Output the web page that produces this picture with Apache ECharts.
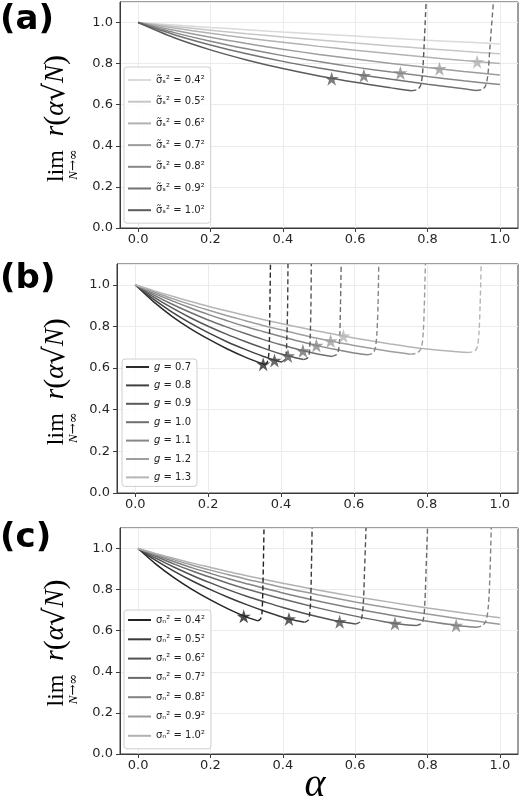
<!DOCTYPE html>
<html><head><meta charset="utf-8">
<script src="https://cdn.jsdelivr.net/npm/echarts@6/dist/echarts.min.js"></script>
<style>html,body{margin:0;padding:0;background:#fff}#c{width:524px;height:800px}</style>
</head><body><div id="c"></div>
<script>
// ---------- Panel (a): sigma_s^2 ----------
const aLabels = ['0.4','0.5','0.6','0.7','0.8','0.9','1.0'];
const aColors = ['#dadada','#c6c6c6','#b2b2b2','#9d9d9d','#888888','#727272','#5b5b5b'];
const aS04 = [[0,1],[0.1,0.988],[0.2,0.976],[0.3,0.965],[0.4,0.954],[0.5,0.944],[0.6,0.934],[0.7,0.924],[0.8,0.914],[0.9,0.905],[1.0,0.896]];
const aS05 = [[0,1],[0.1,0.981],[0.2,0.963],[0.3,0.946],[0.4,0.930],[0.5,0.915],[0.6,0.900],[0.7,0.886],[0.8,0.873],[0.9,0.860],[1.0,0.848]];
const aS06 = [[0,1],[0.1,0.973],[0.2,0.948],[0.3,0.925],[0.4,0.904],[0.5,0.884],[0.6,0.865],[0.7,0.848],[0.8,0.831],[0.9,0.815],[1.0,0.801]];
const aS07 = [[0,1],[0.1,0.962],[0.2,0.928],[0.3,0.898],[0.4,0.870],[0.5,0.845],[0.6,0.822],[0.7,0.801],[0.8,0.781],[0.9,0.762],[1.0,0.745]];
const aS08 = [[0,1],[0.1,0.951],[0.2,0.909],[0.3,0.872],[0.4,0.839],[0.5,0.810],[0.6,0.783],[0.7,0.759],[0.8,0.737],[0.9,0.717],[1.0,0.698]];
const aS09 = [[0,1],[0.1,0.941],[0.2,0.891],[0.3,0.848],[0.4,0.811],[0.5,0.779],[0.6,0.750],[0.7,0.724],[0.8,0.700],[0.9,0.678],[0.934,0.669]];
const aS10 = [[0,1],[0.1,0.926],[0.2,0.867],[0.3,0.818],[0.4,0.776],[0.5,0.740],[0.6,0.709],[0.7,0.682],[0.755,0.668]];
const aDash10 = [[0.755,0.668],[0.772,0.674],[0.781,0.695],[0.786,0.75],[0.79,0.87],[0.796,1.1]];
const aDash09 = [[0.934,0.669],[0.952,0.675],[0.961,0.695],[0.967,0.75],[0.972,0.87],[0.982,1.1]];
const aStars = [[0.535,0.727],[0.624,0.742],[0.725,0.755],[0.833,0.775],[0.937,0.809]];
const aStarCurve = [6,5,4,3,2];

// ---------- Panel (b): g ----------
const bLabels = ['0.7','0.8','0.9','1.0','1.1','1.2','1.3'];
const bColors = ['#2b2b2b','#424242','#595959','#707070','#878787','#9e9e9e','#b5b5b5'];
const bG07 = [[0,1],[0.05,0.919],[0.1,0.850],[0.15,0.791],[0.2,0.740],[0.25,0.694],[0.3,0.654],[0.356,0.616]];
const bG08 = [[0,1],[0.05,0.931],[0.1,0.870],[0.15,0.817],[0.2,0.770],[0.25,0.728],[0.3,0.691],[0.35,0.657],[0.4,0.629]];
const bG09 = [[0,1],[0.05,0.942],[0.1,0.890],[0.15,0.843],[0.2,0.801],[0.25,0.763],[0.3,0.729],[0.35,0.697],[0.4,0.668],[0.462,0.641]];
const bG10 = [[0,1],[0.05,0.952],[0.1,0.908],[0.15,0.868],[0.2,0.831],[0.25,0.798],[0.3,0.767],[0.35,0.738],[0.4,0.712],[0.45,0.688],[0.5,0.668],[0.54,0.656]];
const bG11 = [[0,1],[0.05,0.960],[0.1,0.924],[0.15,0.890],[0.2,0.858],[0.25,0.829],[0.3,0.801],[0.35,0.776],[0.4,0.752],[0.45,0.729],[0.5,0.708],[0.55,0.689],[0.6,0.673],[0.636,0.664]];
const bG12 = [[0,1],[0.05,0.967],[0.1,0.935],[0.15,0.906],[0.2,0.879],[0.25,0.853],[0.3,0.829],[0.35,0.805],[0.4,0.784],[0.45,0.763],[0.5,0.743],[0.55,0.725],[0.6,0.709],[0.65,0.694],[0.7,0.680],[0.755,0.667]];
const bG13 = [[0,1],[0.05,0.972],[0.1,0.946],[0.15,0.921],[0.2,0.897],[0.25,0.875],[0.3,0.854],[0.35,0.833],[0.4,0.814],[0.45,0.796],[0.5,0.778],[0.55,0.761],[0.6,0.745],[0.65,0.730],[0.7,0.716],[0.75,0.703],[0.8,0.692],[0.85,0.683],[0.911,0.675]];
const bDash07 = [[0.356,0.616],[0.362,0.628],[0.366,0.66],[0.368,0.72],[0.369,0.85],[0.371,1.1]];
const bDash08 = [[0.4,0.629],[0.41,0.64],[0.414,0.67],[0.416,0.75],[0.418,0.9],[0.419,1.1]];
const bDash09 = [[0.462,0.641],[0.474,0.651],[0.478,0.68],[0.48,0.75],[0.482,0.9],[0.483,1.1]];
const bDash10 = [[0.54,0.656],[0.553,0.665],[0.558,0.69],[0.561,0.75],[0.563,0.9],[0.565,1.1]];
const bDash11 = [[0.636,0.664],[0.652,0.672],[0.659,0.70],[0.663,0.77],[0.666,0.9],[0.668,1.1]];
const bDash12 = [[0.755,0.667],[0.775,0.674],[0.785,0.70],[0.79,0.77],[0.793,0.9],[0.796,1.1]];
const bDash13 = [[0.911,0.675],[0.93,0.681],[0.938,0.70],[0.943,0.77],[0.946,0.9],[0.949,1.1]];
const bStars = [[0.351,0.619],[0.382,0.637],[0.419,0.658],[0.460,0.683],[0.497,0.709],[0.536,0.730],[0.571,0.754]];
const bStarCurve = [0,1,2,3,4,5,6];

// ---------- Panel (c): sigma_n^2 ----------
const cLabels = ['0.4','0.5','0.6','0.7','0.8','0.9','1.0'];
const cColors = ['#222222','#3a3a3a','#525252','#6a6a6a','#828282','#9a9a9a','#b2b2b2'];
const cN04 = [[0,1],[0.05,0.923],[0.1,0.857],[0.15,0.800],[0.2,0.750],[0.25,0.705],[0.3,0.666],[0.331,0.648]];
const cN05 = [[0,1],[0.05,0.941],[0.1,0.889],[0.15,0.842],[0.2,0.800],[0.25,0.762],[0.3,0.727],[0.35,0.695],[0.4,0.666],[0.43,0.652],[0.46,0.641]];
const cN06 = [[0,1],[0.05,0.952],[0.1,0.909],[0.15,0.869],[0.2,0.833],[0.25,0.799],[0.3,0.768],[0.35,0.740],[0.4,0.713],[0.45,0.689],[0.5,0.667],[0.55,0.647],[0.601,0.633]];
const cN07 = [[0,1],[0.05,0.961],[0.1,0.924],[0.15,0.891],[0.2,0.860],[0.25,0.830],[0.3,0.803],[0.4,0.754],[0.5,0.710],[0.6,0.671],[0.7,0.638],[0.768,0.625]];
const cN08 = [[0,1],[0.05,0.967],[0.1,0.936],[0.15,0.906],[0.2,0.879],[0.25,0.853],[0.3,0.829],[0.4,0.784],[0.5,0.744],[0.6,0.708],[0.7,0.675],[0.8,0.646],[0.88,0.626],[0.934,0.617]];
const cN09 = [[0,1],[0.05,0.972],[0.1,0.945],[0.15,0.919],[0.2,0.895],[0.25,0.872],[0.3,0.851],[0.4,0.810],[0.5,0.774],[0.6,0.740],[0.7,0.709],[0.8,0.681],[0.9,0.655],[1.0,0.631]];
const cN10 = [[0,1],[0.05,0.975],[0.1,0.952],[0.15,0.929],[0.2,0.908],[0.25,0.887],[0.3,0.868],[0.4,0.831],[0.5,0.797],[0.6,0.766],[0.7,0.738],[0.8,0.711],[0.9,0.686],[1.0,0.663]];
const cDash04 = [[0.331,0.648],[0.338,0.656],[0.342,0.68],[0.344,0.75],[0.346,0.9],[0.348,1.1]];
const cDash05 = [[0.46,0.641],[0.47,0.65],[0.474,0.68],[0.477,0.75],[0.479,0.9],[0.481,1.1]];
const cDash06 = [[0.601,0.633],[0.613,0.642],[0.619,0.67],[0.623,0.75],[0.626,0.9],[0.63,1.1]];
const cDash07 = [[0.768,0.625],[0.782,0.634],[0.789,0.66],[0.793,0.75],[0.796,0.9],[0.8,1.1]];
const cDash08 = [[0.934,0.617],[0.952,0.626],[0.962,0.65],[0.968,0.72],[0.972,0.85],[0.976,1.1]];
const cStars = [[0.292,0.670],[0.417,0.657],[0.557,0.644],[0.710,0.635],[0.879,0.626]];
const cStarCurve = [0,1,2,3,4];

// ---------- axes ticks ----------
const xTicks = [0, 0.2, 0.4, 0.6, 0.8, 1.0];

// ---------- build ----------
const STAR = 'path://M50,0 L61.2,34.5 L97.6,34.5 L68.2,55.9 L79.4,90.5 L50,69.1 L20.6,90.5 L31.8,55.9 L2.4,34.5 L38.8,34.5 Z';
const panels = [
  { curves:[aS04,aS05,aS06,aS07,aS08,aS09,aS10], names:aLabels.map(v=>'σ\u0303\u209B\u00B2 = '+v+'\u00B2'),
    colors:aColors, dashes:[aDash10,aDash09], dashCurve:[6,5], stars:aStars, starCurve:aStarCurve,
    grid:{left:120, top:2, width:398, height:226},
    legend:{left:124, top:67, padding:[7,6,7,3], itemGap:9.7} },
  { curves:[bG07,bG08,bG09,bG10,bG11,bG12,bG13], names:bLabels.map(v=>'g = '+v),
    colors:bColors, dashes:[bDash07,bDash08,bDash09,bDash10,bDash11,bDash12,bDash13], dashCurve:[0,1,2,3,4,5,6],
    stars:bStars, starCurve:bStarCurve,
    grid:{left:117, top:264, width:401, height:229},
    legend:{left:122, top:359, padding:[2,6,3,3], itemGap:6.4}, italicG:true },
  { curves:[cN04,cN05,cN06,cN07,cN08,cN09,cN10], names:cLabels.map(v=>'σ\u2099\u00B2 = '+v+'\u00B2'),
    colors:cColors, dashes:[cDash04,cDash05,cDash06,cDash07,cDash08], dashCurve:[0,1,2,3,4],
    stars:cStars, starCurve:cStarCurve,
    grid:{left:120, top:528, width:398, height:226},
    legend:{left:124, top:610, padding:[4,6,7,3], itemGap:7.3} }
];

const grids=[], xAxes=[], yAxes=[], series=[], legends=[], graphics=[];
const axisColor = '#3a3a3a', labelColor = '#262626', gridColor = '#ebebeb';
panels.forEach((p,i)=>{
  grids.push(Object.assign({show:true, borderColor:axisColor, borderWidth:1, backgroundColor:'transparent'}, p.grid));
  xAxes.push({type:'value', gridIndex:i, min:-0.05, max:1.05,
    axisLine:{show:true, onZero:false, lineStyle:{color:axisColor}},
    axisTick:{show:true, length:4, customValues:xTicks, lineStyle:{color:axisColor}},
    axisLabel:{customValues:xTicks, formatter:v=>Number(v).toFixed(1), fontSize:13, color:labelColor, fontFamily:'DejaVu Sans', margin:5},
    splitLine:{show:true, lineStyle:{color:gridColor, width:1}}});
  yAxes.push({type:'value', gridIndex:i, min:0, max:1.1, interval:0.2,
    axisLine:{show:true, onZero:false, lineStyle:{color:axisColor}},
    axisTick:{show:true, length:4, lineStyle:{color:axisColor}},
    axisLabel:{formatter:v=>Number(v).toFixed(1), fontSize:13, color:labelColor, fontFamily:'DejaVu Sans', margin:7,
      showMaxLabel:false},
    splitLine:{show:true, lineStyle:{color:gridColor, width:1}}});
  p.curves.forEach((d,k)=>{
    series.push({type:'line', name:p.names[k], xAxisIndex:i, yAxisIndex:i, data:d, smooth:0.3,
      symbol:'none', showSymbol:false, lineStyle:{width:1.5, color:p.colors[k]}, itemStyle:{color:p.colors[k]}, z:2, silent:true});
  });
  p.dashes.forEach((d,k)=>{
    const col = p.colors[p.dashCurve[k]];
    series.push({type:'line', name:'dash'+i+'_'+k, xAxisIndex:i, yAxisIndex:i, data:d, smooth:0.3,
      symbol:'none', showSymbol:false, lineStyle:{width:1.4, type:[5,3], color:col}, itemStyle:{color:col}, z:2, silent:true});
  });
  series.push({type:'scatter', name:'stars'+i, xAxisIndex:i, yAxisIndex:i, symbol:STAR, symbolSize:14, z:5, silent:true,
    data:p.stars.map((s,k)=>({value:s, itemStyle:{color:p.colors[p.starCurve[k]]}}))});
  legends.push(Object.assign({show:true, orient:'vertical', data:p.names, itemWidth:23, itemHeight:12,
    selectedMode:false, backgroundColor:'rgba(255,255,255,0.85)', borderColor:'#cfcfcf', borderWidth:1, borderRadius:3,
    itemStyle:{opacity:0},
    textStyle:{fontSize:10, color:'#222', fontFamily:'DejaVu Sans', lineHeight:12,
      rich:{i:{fontStyle:'italic', fontSize:10, color:'#222', fontFamily:'DejaVu Sans'}}},
    formatter: p.italicG ? (n=>'{i|g} '+n.slice(2)) : (n=>n)
  }, p.legend));
});

// panel letters
[['(a)',3],['(b)',262],['(c)',521]].forEach(([t,y])=>{
  graphics.push({type:'text', left:0, top:y, style:{text:t, font:'bold 34px "DejaVu Sans"', fill:'#000'}});
});
// y-axis titles (rotated)
[118.5, 381.7, 643].forEach(cy=>{
  graphics.push({type:'group', x:57, y:cy, rotation:Math.PI/2, children:[
    {type:'text', x:-63.5, y:0, style:{text:'lim', font:'24px "Liberation Serif"', fill:'#000', textAlign:'left', textVerticalAlign:'middle'}},
    {type:'text', x:63.5, y:-1, style:{text:'{i|r}{p|(}{i|α}{s|√}{i|N}{p|)}', textAlign:'right', textVerticalAlign:'middle', fill:'#000',
      rich:{i:{font:'italic 27px "Liberation Serif"', fill:'#000'}, p:{font:'30px "Liberation Serif"', fill:'#000'}, s:{font:'29px "DejaVu Serif"', fill:'#000'}}}},
    {type:'text', x:-46, y:17, style:{text:'{i|N}{n|→∞}', textAlign:'center', textVerticalAlign:'middle', fill:'#000',
      rich:{i:{font:'italic 13px "Liberation Serif"', fill:'#000'}, n:{font:'13px "DejaVu Serif"', fill:'#000'}}}}
  ]});
});
// x-axis title
graphics.push({type:'text', x:315, y:785, style:{text:'α', font:'italic 40px "Liberation Serif"', fill:'#000', textAlign:'center', textVerticalAlign:'middle'}});

const chart = echarts.init(document.getElementById('c'), null, {renderer:'canvas'});
chart.setOption({animation:false, backgroundColor:'#fff', grid:grids, xAxis:xAxes, yAxis:yAxes, series:series, legend:legends, graphic:graphics});
</script></body></html>
